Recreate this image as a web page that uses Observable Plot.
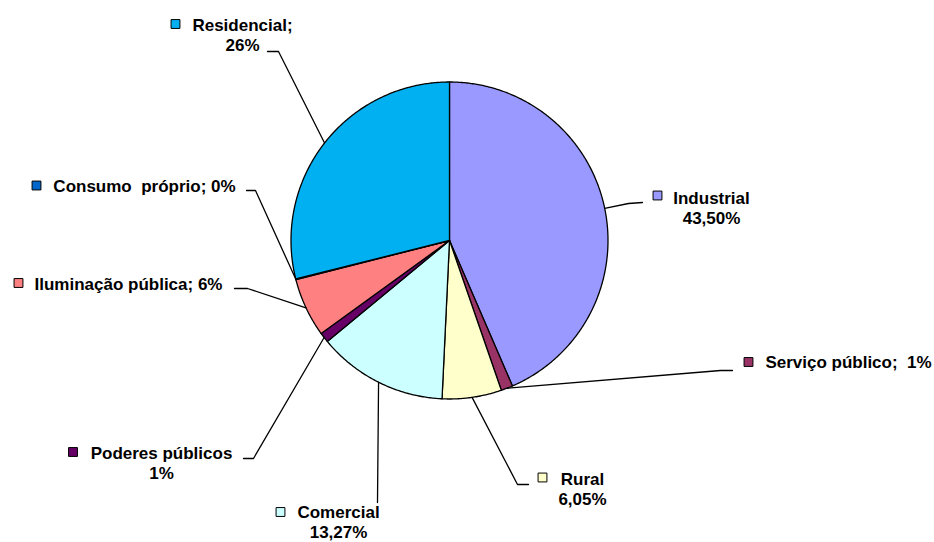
<!DOCTYPE html>
<html>
<head>
<meta charset="utf-8">
<script src="https://cdn.jsdelivr.net/npm/d3@7"></script>
<script src="https://cdn.jsdelivr.net/npm/@observablehq/plot@0.6"></script>
<style>
  html, body { margin: 0; padding: 0; background: #ffffff; }
  #chart svg text { white-space: pre; }
</style>
</head>
<body>
<div id="chart"></div>
<script>
// ---- data ----
const categories = ["Industrial", "Serviço público", "Rural", "Comercial", "Poderes públicos", "Iluminação pública", "Consumo próprio", "Residencial"];
const values = [43.5, 1.2, 6.05, 13.27, 1.0, 6.0, 0.08, 28.9];
const labelTexts = ["Industrial\n43,50%", "Serviço público;  1%", "Rural\n6,05%", "Comercial\n13,27%", "Poderes públicos\n1%", "Iluminação pública; 6%", "Consumo  próprio; 0%", "Residencial;\n26%"];
const colors = ["#9999FF", "#993366", "#FFFFCC", "#CCFFFF", "#660066", "#FF8080", "#0066CC", "#00B0F0"];

// ---- layout (pixel positions of the hand-placed labels) ----
const W = 934, H = 542;
const cx = 449, cy = 240, R = 158.5;
const labelPos = [[711, 207], [848, 361], [582, 488], [338, 521], [161, 462], [128, 283], [144, 185], [242, 34]];
const keyPos = [[657, 195], [748, 361.5], [542, 477], [280, 511.5], [72.5, 451.5], [18, 282.5], [36, 185], [175, 23.5]];
const leaderElbows = [
  [[642, 202], [628, 203]],
  [[732, 370], [720, 370]],
  [[528, 484], [517, 484]],
  [[377, 502]],
  [[243, 458], [253, 458]],
  [[234, 288], [247, 288]],
  [[246, 190], [255, 190]],
  [[267, 51], [278, 51]]
];

// ---- geometry from the values ----
const arcs = d3.pie().sort(null).value(d => d)(values);
const pt = (a, r) => [cx + r * Math.sin(a), cy - r * Math.cos(a)];

const slicePts = [];
arcs.forEach((a, i) => {
  const name = categories[i];
  slicePts.push({name, x: cx, y: cy});
  const n = Math.max(2, Math.ceil((a.endAngle - a.startAngle) / (Math.PI / 360)));
  for (let k = 0; k <= n; k++) {
    const t = a.startAngle + (a.endAngle - a.startAngle) * k / n;
    const [x, y] = pt(t, R);
    slicePts.push({name, x, y});
  }
  slicePts.push({name, x: cx, y: cy});
});

const leaderPts = [];
arcs.forEach((a, i) => {
  leaderElbows[i].forEach(([x, y]) => leaderPts.push({name: categories[i], x, y}));
  const [x, y] = pt((a.startAngle + a.endAngle) / 2, R);
  leaderPts.push({name: categories[i], x, y});
});

const labels = categories.map((c, i) => ({name: c, text: labelTexts[i], x: labelPos[i][0], y: labelPos[i][1]}));
const keys = categories.map((c, i) => ({name: c, x: keyPos[i][0], y: keyPos[i][1]}));

const chart = Plot.plot({
  width: W,
  height: H,
  margin: 0,
  style: {background: "#ffffff", fontFamily: "'Liberation Sans', Arial, sans-serif"},
  x: {domain: [0, W], range: [0, W], axis: null},
  y: {domain: [0, H], range: [0, H], axis: null},
  color: {domain: categories, range: colors},
  marks: [
    Plot.line(slicePts, {x: "x", y: "y", z: "name", fill: "name", stroke: "#000", strokeWidth: 1.3, strokeLinejoin: "round", curve: "linear"}),
    Plot.line(leaderPts, {x: "x", y: "y", z: "name", stroke: "#000", strokeWidth: 1.3}),
    Plot.dot(keys, {x: "x", y: "y", symbol: "square", r: 5, fill: "name", stroke: "#000", strokeWidth: 1}),
    Plot.text(labels, {x: "x", y: "y", text: "text", fontSize: 17, fontWeight: "bold", fill: "#000", lineHeight: 1.2, lineAnchor: "middle", textAnchor: "middle"})
  ]
});
document.getElementById("chart").appendChild(chart);
</script>
</body>
</html>
